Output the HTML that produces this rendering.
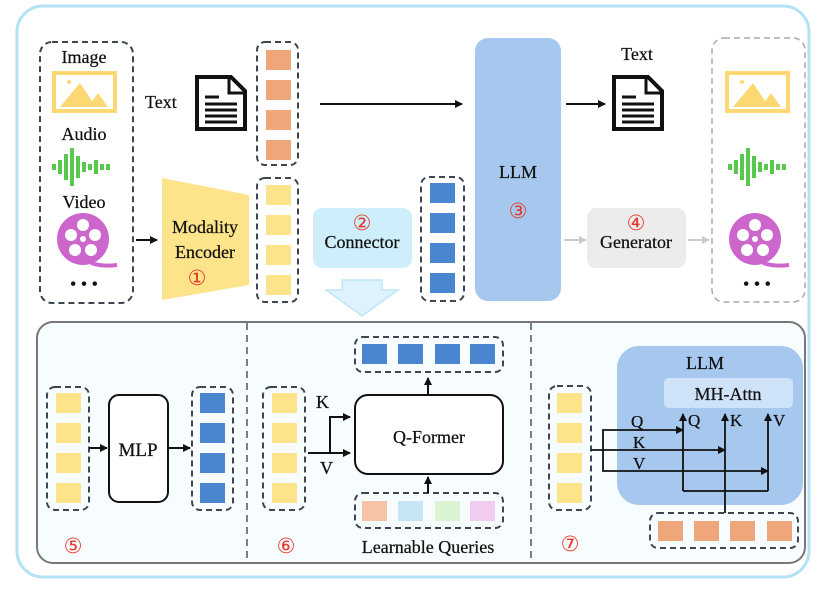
<!DOCTYPE html>
<html><head><meta charset="utf-8"><style>
html,body{margin:0;padding:0;background:#fff;}
svg{display:block;}
text{font-family:"Liberation Serif",serif;fill:#111;stroke:#111;stroke-width:0.25;}
.n{fill:#e8382b;stroke:none;font-family:"DejaVu Sans",sans-serif;}
</style></head><body>
<svg width="837" height="614" viewBox="0 0 837 614" xmlns="http://www.w3.org/2000/svg">
<defs>
<marker id="ah" markerWidth="8" markerHeight="8" refX="7" refY="4" orient="auto" markerUnits="userSpaceOnUse"><path d="M0,0 L8,4 L0,8 z" fill="#111"/></marker>
<marker id="ahg" markerWidth="8" markerHeight="8" refX="7" refY="4" orient="auto" markerUnits="userSpaceOnUse"><path d="M0,0 L8,4 L0,8 z" fill="#ccc"/></marker>
<g id="img"><rect x="2" y="2" width="61" height="38" fill="none" stroke="#fcd872" stroke-width="4"/><path d="M8,36 L28,12 L44,36 z M36,36 L46,22 L56,36 z" fill="#fcd872"/><circle cx="17" cy="11" r="2" fill="#fcd872"/></g>
<g id="wave" fill="#58c94d"><rect x="0" y="16" width="4" height="6"/><rect x="6" y="12" width="4" height="14"/><rect x="12" y="6" width="4" height="26"/><rect x="18" y="0" width="4" height="38"/><rect x="24" y="8" width="4" height="22"/><rect x="30" y="14" width="4" height="10"/><rect x="36" y="16" width="4" height="6"/><rect x="42" y="12" width="4" height="14"/><rect x="48" y="16" width="4" height="6"/><rect x="54" y="16" width="4" height="6"/></g>
<g id="vid"><circle cx="32" cy="26" r="26" fill="#cc66cc"/><path d="M40,50 Q52,54 66,52" stroke="#cc66cc" stroke-width="4" fill="none"/><g fill="#fff"><circle cx="32" cy="12" r="6"/><circle cx="20" cy="22" r="6"/><circle cx="44" cy="22" r="6"/><circle cx="24" cy="37" r="6"/><circle cx="40" cy="37" r="6"/><circle cx="32" cy="26" r="3"/></g></g>
<g id="doc"><path d="M2,2 L36,2 L50,16 L50,54 L2,54 z" fill="#fff" stroke="#111" stroke-width="4"/><path d="M34,2 L34,18 L50,18" fill="none" stroke="#111" stroke-width="3"/><g stroke="#111" stroke-width="3"><line x1="10" y1="22" x2="24" y2="22"/><line x1="10" y1="29" x2="42" y2="29"/><line x1="10" y1="35" x2="42" y2="35"/><line x1="10" y1="41" x2="42" y2="41"/><line x1="10" y1="47" x2="42" y2="47"/></g></g>
</defs>
<rect x="17" y="6" width="792" height="571" rx="26" fill="#fff" stroke="#b3e2f4" stroke-width="3"/>

<rect x="40" y="42" width="93" height="261" rx="12" fill="none" stroke="#3d4650" stroke-width="2" stroke-dasharray="6,4"/>
<text x="84" y="63" font-size="18" text-anchor="middle">Image</text>
<use href="#img" x="52" y="71"/>
<text x="84" y="140" font-size="18" text-anchor="middle">Audio</text>
<use href="#wave" x="52" y="148"/>
<text x="84" y="208" font-size="18" text-anchor="middle">Video</text>
<use href="#vid" x="51" y="213"/>
<text x="84" y="290" font-size="18" text-anchor="middle">• • •</text>
<line x1="136" y1="240" x2="157" y2="240" stroke="#111" stroke-width="2" marker-end="url(#ah)"/>
<path d="M162,178 L249,195 L249,285 L162,300 z" fill="#fde38a"/>
<text x="205" y="233" font-size="18" text-anchor="middle">Modality</text>
<text x="205" y="258" font-size="18" text-anchor="middle">Encoder</text>
<text x="197" y="285" font-size="21" class="n" text-anchor="middle">①</text>
<text x="145" y="108" font-size="18">Text</text>
<use href="#doc" x="195" y="75"/>
<rect x="257" y="42" width="41" height="123" rx="8" fill="none" stroke="#3d4650" stroke-width="2" stroke-dasharray="6,4"/>
<g fill="#eea67a"><rect x="266" y="50" width="25" height="20"/><rect x="266" y="80" width="25" height="20"/><rect x="266" y="110" width="25" height="20"/><rect x="266" y="140" width="25" height="20"/></g>
<rect x="257" y="178" width="41" height="124" rx="8" fill="none" stroke="#3d4650" stroke-width="2" stroke-dasharray="6,4"/>
<g fill="#fde38a"><rect x="266" y="185" width="25" height="20"/><rect x="266" y="215" width="25" height="20"/><rect x="266" y="245" width="25" height="20"/><rect x="266" y="275" width="25" height="20"/></g>
<line x1="320" y1="104" x2="462" y2="104" stroke="#111" stroke-width="2" marker-end="url(#ah)"/>
<rect x="313" y="208" width="99" height="60" rx="9" fill="#cdeefa"/>
<text x="362" y="230" font-size="21" class="n" text-anchor="middle">②</text>
<text x="362" y="248" font-size="18" text-anchor="middle">Connector</text>
<path d="M342,280 L382,280 L382,290 L398,290 L362,316 L326,290 L342,290 z" fill="#ddf2fd" stroke="#bfe6f8" stroke-width="1.5"/>
<rect x="421" y="177" width="43" height="124" rx="8" fill="none" stroke="#3d4650" stroke-width="2" stroke-dasharray="6,4"/>
<g fill="#4a86d0"><rect x="430" y="183" width="25" height="20"/><rect x="430" y="213" width="25" height="20"/><rect x="430" y="243" width="25" height="20"/><rect x="430" y="273" width="25" height="20"/></g>
<rect x="475" y="38" width="86" height="263" rx="13" fill="#a6c8ee"/>
<text x="518" y="178" font-size="18" text-anchor="middle">LLM</text>
<text x="518" y="218" font-size="21" class="n" text-anchor="middle">③</text>
<line x1="566" y1="104" x2="605" y2="104" stroke="#111" stroke-width="2" marker-end="url(#ah)"/>
<text x="637" y="60" font-size="18" text-anchor="middle">Text</text>
<use href="#doc" x="612" y="75"/>
<line x1="564" y1="240" x2="586" y2="240" stroke="#ccc" stroke-width="2" marker-end="url(#ahg)"/>
<rect x="587" y="208" width="99" height="60" rx="9" fill="#ececec"/>
<text x="636" y="230" font-size="21" class="n" text-anchor="middle">④</text>
<text x="636" y="248" font-size="18" text-anchor="middle">Generator</text>
<line x1="688" y1="240" x2="709" y2="240" stroke="#ccc" stroke-width="2" marker-end="url(#ahg)"/>
<rect x="712" y="38" width="93" height="264" rx="12" fill="none" stroke="#aaa" stroke-width="1.5" stroke-dasharray="6,4"/>
<use href="#img" x="725" y="71"/>
<use href="#wave" x="728" y="148"/>
<use href="#vid" x="723" y="213"/>
<text x="757" y="290" font-size="18" text-anchor="middle">• • •</text>

<rect x="37" y="322" width="768" height="241" rx="16" fill="#f7fcff" stroke="#777" stroke-width="2"/>
<line x1="247" y1="323" x2="247" y2="562" stroke="#555" stroke-width="1.5" stroke-dasharray="7,5"/>
<line x1="531" y1="323" x2="531" y2="562" stroke="#555" stroke-width="1.5" stroke-dasharray="7,5"/>
<rect x="47" y="387" width="42" height="123" rx="8" fill="none" stroke="#3d4650" stroke-width="2" stroke-dasharray="6,4"/>
<g fill="#fde38a"><rect x="56" y="393" width="25" height="20"/><rect x="56" y="423" width="25" height="20"/><rect x="56" y="453" width="25" height="20"/><rect x="56" y="483" width="25" height="20"/></g>
<line x1="89" y1="448" x2="107" y2="448" stroke="#111" stroke-width="2" marker-end="url(#ah)"/>
<rect x="109" y="395" width="59" height="107" rx="10" fill="#fff" stroke="#111" stroke-width="2"/>
<text x="138" y="456" font-size="19" text-anchor="middle">MLP</text>
<line x1="168" y1="448" x2="190" y2="448" stroke="#111" stroke-width="2" marker-end="url(#ah)"/>
<rect x="192" y="387" width="41" height="123" rx="8" fill="none" stroke="#3d4650" stroke-width="2" stroke-dasharray="6,4"/>
<g fill="#4a86d0"><rect x="200" y="393" width="25" height="20"/><rect x="200" y="423" width="25" height="20"/><rect x="200" y="453" width="25" height="20"/><rect x="200" y="483" width="25" height="20"/></g>
<text x="73" y="553" font-size="21" class="n" text-anchor="middle">⑤</text>
<rect x="263" y="387" width="42" height="123" rx="8" fill="none" stroke="#3d4650" stroke-width="2" stroke-dasharray="6,4"/>
<g fill="#fde38a"><rect x="272" y="393" width="25" height="20"/><rect x="272" y="423" width="25" height="20"/><rect x="272" y="453" width="25" height="20"/><rect x="272" y="483" width="25" height="20"/></g>
<line x1="308" y1="453" x2="350" y2="453" stroke="#111" stroke-width="2" marker-end="url(#ah)"/>
<polyline points="330,453 330,417 350,417" fill="none" stroke="#111" stroke-width="2" marker-end="url(#ah)"/>
<text x="316" y="408" font-size="18">K</text>
<text x="320" y="474" font-size="18">V</text>
<rect x="355" y="395" width="148" height="79" rx="13" fill="#fff" stroke="#111" stroke-width="2"/>
<text x="429" y="443" font-size="18" text-anchor="middle">Q-Former</text>
<rect x="355" y="337" width="148" height="35" rx="8" fill="none" stroke="#3d4650" stroke-width="2" stroke-dasharray="6,4"/>
<g fill="#4a86d0"><rect x="362" y="344" width="25" height="20"/><rect x="398" y="344" width="25" height="20"/><rect x="435" y="344" width="25" height="20"/><rect x="470" y="344" width="25" height="20"/></g>
<line x1="428" y1="395" x2="428" y2="378" stroke="#111" stroke-width="2" marker-end="url(#ah)"/>
<rect x="355" y="493" width="148" height="35" rx="8" fill="none" stroke="#3d4650" stroke-width="2" stroke-dasharray="6,4"/>
<rect x="362" y="501" width="25" height="20" fill="#f6c3a6"/><rect x="398" y="501" width="25" height="20" fill="#c6e6f6"/><rect x="435" y="501" width="25" height="20" fill="#dcf3d2"/><rect x="470" y="501" width="25" height="20" fill="#f0cdee"/>
<line x1="428" y1="493" x2="428" y2="477" stroke="#111" stroke-width="2" marker-end="url(#ah)"/>
<text x="428" y="553" font-size="18" text-anchor="middle">Learnable Queries</text>
<text x="286" y="553" font-size="21" class="n" text-anchor="middle">⑥</text>
<rect x="617" y="346" width="186" height="159" rx="22" fill="#a6c8ee"/>
<text x="705" y="369" font-size="18" text-anchor="middle">LLM</text>
<rect x="664" y="378" width="129" height="30" rx="5" fill="#cfe3f8"/>
<text x="728" y="400" font-size="18" text-anchor="middle">MH-Attn</text>
<rect x="549" y="386" width="42" height="124" rx="8" fill="none" stroke="#3d4650" stroke-width="2" stroke-dasharray="6,4"/>
<g fill="#fde38a"><rect x="557" y="393" width="25" height="20"/><rect x="557" y="423" width="25" height="20"/><rect x="557" y="453" width="25" height="20"/><rect x="557" y="483" width="25" height="20"/></g>
<text x="570" y="551" font-size="21" class="n" text-anchor="middle">⑦</text>
<g stroke="#111" stroke-width="1.8" fill="none">
<line x1="591" y1="450" x2="725" y2="450" marker-end="url(#ah)"/>
<polyline points="603,450 603,430 683,430" marker-end="url(#ah)"/>
<polyline points="603,450 603,471 768,471" marker-end="url(#ah)"/>
<line x1="683" y1="491" x2="683" y2="414" marker-end="url(#ah)"/>
<line x1="725" y1="513" x2="725" y2="414" marker-end="url(#ah)"/>
<line x1="768" y1="491" x2="768" y2="414" marker-end="url(#ah)"/>
<line x1="683" y1="491" x2="768" y2="491"/>
</g>
<text x="631" y="427" font-size="17">Q</text>
<text x="633" y="448" font-size="17">K</text>
<text x="633" y="469" font-size="17">V</text>
<text x="688" y="426" font-size="17">Q</text>
<text x="730" y="426" font-size="17">K</text>
<text x="773" y="426" font-size="17">V</text>
<rect x="650" y="513" width="148" height="35" rx="8" fill="none" stroke="#3d4650" stroke-width="2" stroke-dasharray="6,4"/>
<g fill="#eea67a"><rect x="658" y="521" width="25" height="20"/><rect x="694" y="521" width="25" height="20"/><rect x="730" y="521" width="25" height="20"/><rect x="767" y="521" width="25" height="20"/></g>
</svg>
</body></html>
